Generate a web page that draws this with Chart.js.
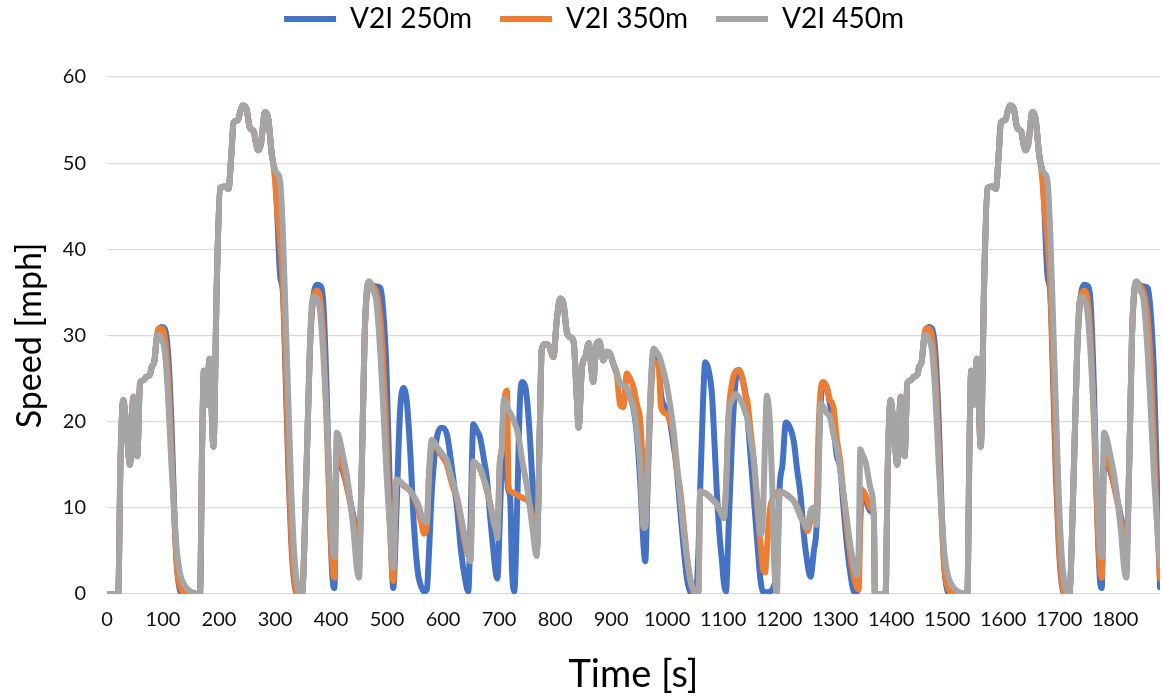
<!DOCTYPE html>
<html>
<head>
<meta charset="utf-8">
<script src="https://cdn.jsdelivr.net/npm/chart.js@4.4.0/dist/chart.umd.min.js"></script>
<style>
  html, body { margin: 0; padding: 0; background: #fff; }
</style>
</head>
<body>
<canvas id="myChart" width="1162" height="698"></canvas>
<script>
// Time [s] (shared by the three series)
var time = [
  0, 20, 24, 29, 35, 41, 47, 51, 54, 59, 65, 70, 77, 80, 84, 89, 92, 97, 103, 109, 115, 120, 125, 130, 136, 143, 152, 166,
  170, 173, 178, 183, 190, 196, 202, 210, 217, 222, 226, 234, 238, 242, 249, 255, 262, 266, 270, 275, 282, 288, 294, 297, 300, 304, 309, 314, 319, 324, 329, 334, 340, 348,
  356, 362, 366, 370, 375, 380, 386, 392, 398, 403, 406, 410, 414, 420, 430, 440, 446, 450, 455, 460, 464, 468, 475, 481, 488, 493, 499, 505, 511,
  517, 523, 529, 535, 541, 548, 555, 562, 566, 571, 575, 580, 590, 598, 607, 615, 620, 625, 632, 640, 645, 649, 654, 660, 666, 672, 678, 684, 690, 694, 697, 701, 705, 708, 711, 714, 717, 720, 723, 727, 733, 737, 741, 747, 752, 757, 761, 767,
  773, 776, 782, 788, 797, 803, 809, 815, 821, 827, 833, 839, 842, 848, 854, 860, 865, 868, 874, 879, 886, 892, 898, 904, 910,
  916, 922, 928, 934, 940, 946, 952, 958, 961, 965, 970, 976, 980, 985, 989, 999, 1004, 1011, 1017, 1023, 1029, 1035, 1041, 1047, 1051, 1056,
  1059, 1064, 1068, 1074, 1080, 1085, 1089, 1094, 1098, 1101, 1105, 1110, 1116, 1122, 1128, 1134, 1140, 1143, 1149, 1155, 1161, 1167, 1171, 1175, 1178, 1181, 1184, 1188, 1191, 1196,
  1201, 1206, 1212, 1218, 1226, 1232, 1238, 1244, 1250, 1256, 1262, 1267, 1270, 1274, 1279, 1285, 1291, 1297, 1303, 1309, 1315, 1321, 1327, 1333, 1339, 1342, 1345, 1348, 1354, 1363, 1369, 1371,
  1390, 1394, 1399, 1405, 1411, 1417, 1421, 1424, 1429, 1435, 1440, 1447, 1450, 1454, 1459, 1462, 1467, 1473, 1479, 1485, 1490, 1495, 1500, 1506, 1513, 1522, 1536,
  1540, 1543, 1548, 1553, 1560, 1566, 1572, 1580, 1587, 1592, 1596, 1604, 1608, 1612, 1619, 1625, 1632, 1636, 1640, 1645, 1652, 1658, 1664, 1667, 1670, 1674, 1679, 1684, 1689, 1694, 1699, 1704, 1710, 1718,
  1726, 1732, 1736, 1740, 1745, 1750, 1756, 1762, 1768, 1773, 1776, 1780, 1784, 1790, 1800, 1810, 1816, 1820, 1825, 1830, 1834, 1838, 1845, 1851, 1858, 1863, 1869, 1875, 1880
];

// Speed [mph], V2I 250m
var speed250 = [
  0, 0, 15, 22.5, 19, 15, 22.9, 18, 16, 24.5, 24.8, 25.2, 25.5, 26.4, 26.8, 29.8, 30.5, 31, 30.8, 28, 20, 10, 3, 0.5, 0, 0, 0, 0,
  18, 25.9, 22, 27.3, 17.1, 36, 47.1, 47.3, 47, 51, 54.7, 55, 56, 56.7, 56.3, 54.1, 53.7, 52.3, 51.5, 52.3, 55.9, 55.1, 51.1, 49.9, 49, 44, 37, 35, 25, 14, 6, 1.5, 0, 0,
  14, 28, 33, 35.2, 35.9, 35.8, 33.9, 24, 9, 1.5, 0.7, 15.5, 15, 14.5, 12, 9, 6.7, 5, 15, 30, 35, 36, 35.8, 35.7, 35.5, 33, 26, 12, 0.7,
  10, 21, 23.9, 22.5, 17, 8, 2.5, 0.7, 0.3, 0.5, 5, 12, 18.5, 19.3, 18.5, 15, 12.5, 10, 5, 1.5, 0.3, 8, 19.7, 19, 18.2, 16, 13.5, 9, 4.9, 2.5, 1.8, 8, 16, 21, 22, 14, 12, 11, 3, 0.3, 12, 22, 24.6, 24, 21, 16, 11, 4.6,
  20, 28.3, 29, 28.9, 27.5, 31.8, 34.3, 33.7, 30.4, 29.8, 29.3, 22.5, 19.3, 26.3, 27.5, 29.1, 26, 24.6, 29, 29.3, 27.1, 28.1, 27.9, 26.7, 25.6,
  24.4, 24.2, 23.9, 22.8, 21.5, 18.5, 13, 5.5, 3.8, 12, 22, 28.3, 27.8, 27, 23.2, 21.5, 20.5, 17.5, 14.7, 10, 5.7, 2, 0.3, 0, 0, 5,
  12, 22, 26.9, 26, 23.2, 17, 11.6, 6.5, 3.8, 1.5, 0.3, 8, 18, 24.5, 26, 25, 23.2, 21, 16, 11, 6, 1.5, 0.3, 0.2, 0.2, 0.2, 0.3, 0.5, 1, 3,
  12.5, 15, 19.9, 19.5, 17.8, 14.5, 11.6, 7, 3.8, 2, 5, 8, 15, 22, 24.3, 24, 22, 19.5, 16, 14.7, 10, 5.7, 2.5, 0.3, 0.2, 3, 9, 11.6, 11, 9.6, 9.2, 0,
  0, 15, 22.5, 19, 15, 22.9, 18, 16, 24.5, 24.8, 25.2, 25.5, 26.4, 26.8, 29.8, 30.5, 31, 30.8, 28, 20, 10, 3, 0.5, 0, 0, 0, 0,
  18, 25.9, 22, 27.3, 17.1, 36, 47.1, 47.3, 47, 51, 54.7, 55, 56, 56.7, 56.3, 54.1, 53.7, 52.3, 51.5, 52.3, 55.9, 55.1, 51.1, 49.9, 49, 44, 37, 35, 25, 14, 6, 1.5, 0, 0,
  14, 28, 33, 35.2, 35.9, 35.8, 33.9, 24, 9, 1.5, 0.7, 15.5, 15, 14.5, 12, 9, 6.7, 5, 15, 30, 35, 36, 35.8, 35.7, 35.5, 33, 26, 12, 0.8
];

// Speed [mph], V2I 350m
var speed350 = [
  0, 0, 15, 22.5, 19, 15, 22.9, 18, 16, 24.5, 24.8, 25.2, 25.5, 26.4, 26.8, 29.8, 30.8, 30.8, 29.8, 25.5, 17, 9, 3, 1, 0.2, 0, 0, 0,
  18, 25.9, 22, 27.3, 17.1, 36, 47.1, 47.3, 47, 51, 54.7, 55, 56, 56.7, 56.3, 54.1, 53.7, 52.3, 51.5, 52.3, 55.9, 55.1, 51.1, 49.9, 48, 44.5, 41, 36, 27, 16, 7, 2, 0, 0,
  14, 28, 33, 34.8, 35.2, 34.5, 30, 20, 9, 3, 1.9, 16.3, 16, 15, 12, 8.5, 6.5, 4.5, 15, 30, 35, 36.2, 35.7, 35, 32, 27, 18, 8, 1.5,
  13.2, 13, 12.6, 12.3, 12, 11.2, 10, 8, 7, 8, 14, 17.3, 16.8, 16, 15, 13, 12, 11, 8.5, 5.5, 4.5, 5, 15, 15, 14.5, 13.5, 12, 10.5, 8.5, 7.5, 7, 15, 17, 21.5, 23.2, 23.6, 12.5, 11.9, 11.8, 11.7, 11.5, 11.3, 11.2, 11, 10.8, 9.8, 8, 4.6,
  20, 28.3, 29, 28.9, 27.5, 31.8, 34.3, 33.7, 30.4, 29.8, 29.3, 22.5, 19.3, 26.3, 27.5, 29.1, 26, 24.6, 29, 29.3, 27.1, 28.1, 27.9, 26.7, 25.6,
  22, 21.7, 25.6, 25, 24, 22, 20.1, 13, 9.2, 14, 22, 27, 26.8, 26.7, 21.7, 20.9, 20.3, 18.6, 14.5, 12.3, 8.5, 4.6, 1.8, 0.3, 0, 0.3,
  11.9, 11.8, 11.7, 11.4, 11, 10.7, 10.4, 9.7, 9.2, 8.8, 12, 20.9, 24.5, 25.8, 26, 25.2, 23, 22.5, 19, 15.4, 10, 5.7, 3, 2.5, 5, 8, 10, 11, 11.5, 11.8,
  11.9, 11.8, 11.6, 11.3, 10.8, 10.2, 9.2, 8.2, 7.3, 8.5, 10, 9, 18, 23.5, 24.6, 24, 22.5, 21.7, 18, 15.4, 11.5, 7.7, 4.5, 2.2, 0.8, 0.5, 9, 12.1, 11.5, 10, 9.2, 0,
  0, 15, 22.5, 19, 15, 22.9, 18, 16, 24.5, 24.8, 25.2, 25.5, 26.4, 26.8, 29.8, 30.8, 30.8, 29.8, 25.5, 17, 9, 3, 1, 0.2, 0, 0, 0,
  18, 25.9, 22, 27.3, 17.1, 36, 47.1, 47.3, 47, 51, 54.7, 55, 56, 56.7, 56.3, 54.1, 53.7, 52.3, 51.5, 52.3, 55.9, 55.1, 51.1, 49.9, 48, 44.5, 41, 36, 27, 16, 7, 2, 0, 0,
  14, 28, 33, 34.8, 35.2, 34.5, 30, 20, 9, 3, 1.9, 16.3, 16, 15, 12, 8.5, 6.5, 4.5, 15, 30, 35, 36.2, 35.7, 35, 32, 27, 18, 8, 1.8
];

// Speed [mph], V2I 450m
var speed450 = [
  0, 0, 15, 22.5, 19, 15, 22.9, 18, 16, 24.5, 24.8, 25.2, 25.5, 26.4, 26.8, 29.8, 30.1, 29.6, 28.2, 23, 15, 9.5, 4.8, 2.5, 1.3, 0.6, 0.2, 0,
  18, 25.9, 22, 27.3, 17.1, 36, 47.1, 47.3, 47, 51, 54.7, 55, 56, 56.7, 56.3, 54.1, 53.7, 52.3, 51.5, 52.3, 55.9, 55.1, 51.1, 49.9, 49.2, 48.8, 48, 42, 32, 22, 12, 5, 1, 0,
  14, 28, 33.9, 34.5, 34.2, 33, 28, 21, 12, 5.5, 4.3, 18.7, 18.3, 16.5, 13, 7.5, 3, 1.9, 15, 30, 35.5, 36.3, 35.2, 33.9, 28, 22, 14, 7.9, 3.1,
  13.3, 13.1, 12.7, 12.4, 12, 11.3, 10.5, 9, 8.5, 8.3, 14, 17.9, 17, 16.3, 15.5, 13.5, 12.5, 11.2, 9, 6.2, 4.5, 3.8, 15.4, 15, 14.7, 13.5, 12.3, 10.5, 8.5, 7.5, 6.5, 14.7, 17, 22.5, 22.6, 22, 21.3, 21, 20.6, 20, 18.8, 17.4, 15.6, 13.5, 11.5, 9, 6.9, 4.4,
  20, 28.3, 29, 28.9, 27.5, 31.8, 34.3, 33.7, 30.4, 29.8, 29.3, 22.5, 19.3, 26.3, 27.5, 29.1, 26, 24.6, 29, 29.3, 27.1, 28.1, 27.9, 26.7, 25.6,
  24.4, 24.2, 23.9, 22.8, 21.7, 19, 15, 7.7, 7.7, 14, 23.2, 28.5, 28.2, 27.7, 27, 24.4, 22.5, 19.3, 15.5, 11.5, 7.7, 4.5, 1.8, 0.5, 0.3, 0.3,
  11.9, 11.8, 11.7, 11.4, 11, 10.7, 10.4, 9.7, 9.2, 8.8, 12, 20.9, 22.5, 23.2, 22.8, 22.1, 21, 20.5, 18, 15.4, 11, 6.9, 9, 18, 23, 22, 19.3, 12, 3.8, 0.2,
  11.9, 11.8, 11.6, 11.3, 10.8, 10, 9, 8.3, 7.7, 9.6, 10, 8, 12, 22.1, 21.7, 21, 20.5, 18.5, 17, 14.5, 11.6, 8.7, 5.7, 3.5, 2.2, 5, 16.8, 16.3, 15.4, 12.3, 9.2, 0,
  0, 15, 22.5, 19, 15, 22.9, 18, 16, 24.5, 24.8, 25.2, 25.5, 26.4, 26.8, 29.8, 30.1, 29.6, 28.2, 23, 15, 9.5, 4.8, 2.5, 1.3, 0.6, 0.2, 0,
  18, 25.9, 22, 27.3, 17.1, 36, 47.1, 47.3, 47, 51, 54.7, 55, 56, 56.7, 56.3, 54.1, 53.7, 52.3, 51.5, 52.3, 55.9, 55.1, 51.1, 49.9, 49.2, 48.8, 48, 42, 32, 22, 12, 5, 1, 0,
  14, 28, 33.9, 34.5, 34.2, 33, 28, 21, 12, 5.5, 4.3, 18.7, 18.3, 16.5, 13, 7.5, 3, 1.9, 15, 30, 35.5, 36.3, 35.2, 33.9, 28, 22, 14, 7.9, 3.4
];

var seriesNames = ['V2I 250m', 'V2I 350m', 'V2I 450m'];
var seriesColors = ['#4472C4', '#ED7D31', '#A5A5A5'];
var yTicks = { min: 0, max: 60, step: 10 };
var xTicks = { min: 0, max: 1880, step: 100 };

var fontFamily = 'Lato, "Liberation Sans", Arial, sans-serif';

function toPoints(values) {
  return time.map(function (t, i) { return { x: t, y: values[i] }; });
}

function makeDataset(i, values) {
  return {
    label: seriesNames[i],
    data: toPoints(values),
    borderColor: seriesColors[i],
    backgroundColor: seriesColors[i],
    borderWidth: 6,
    pointRadius: 0,
    pointHoverRadius: 0,
    fill: false,
    cubicInterpolationMode: 'monotone',
    borderJoinStyle: 'round',
    borderCapStyle: 'round',
    order: 3 - i // gray drawn on top, like the original
  };
}

// fixed legend band height so the plot starts where the original does
var legendBand = {
  id: 'legendBand',
  beforeInit: function (chart) {
    var fit = chart.legend.fit;
    chart.legend.fit = function () {
      fit.call(this);
      this.height = 77;
    };
  },
  afterLayout: function (chart) {
    chart.legend.top = -23;
    chart.legend.left += 14;
    chart.legend.right += 14;
  }
};

var ctx = document.getElementById('myChart').getContext('2d');

var myChart = new Chart(ctx, {
  type: 'line',
  data: {
    datasets: [
      makeDataset(0, speed250),
      makeDataset(1, speed350),
      makeDataset(2, speed450)
    ]
  },
  options: {
    responsive: false,
    animation: false,
    layout: { padding: { left: 0, right: 2, top: 0, bottom: 0 } },
    plugins: {
      tooltip: { enabled: false },
      legend: {
        position: 'top',
        labels: {
          usePointStyle: true,
          pointStyle: 'line',
          pointStyleWidth: 52,
          padding: 28,
          color: '#000',
          font: { family: fontFamily, size: 28 },
          sort: function (a, b) { return a.datasetIndex - b.datasetIndex; }
        }
      }
    },
    scales: {
      x: {
        type: 'linear',
        min: xTicks.min,
        max: xTicks.max,
        afterFit: function (scale) { scale.height = 104; },
        grid: { display: false, drawTicks: false },
        border: { display: false },
        ticks: {
          stepSize: xTicks.step,
          includeBounds: false,
          autoSkip: false,
          maxRotation: 0,
          padding: 14,
          color: '#111',
          font: { family: fontFamily, size: 20 },
          callback: function (value) { return String(value); }
        },
        title: {
          display: true,
          text: 'Time [s]',
          color: '#000',
          font: { family: fontFamily, size: 38 },
          padding: { top: 0, bottom: 0 }
        }
      },
      y: {
        min: yTicks.min,
        max: yTicks.max,
        afterFit: function (scale) { scale.width = 107; },
        grid: { color: '#D9D9D9', lineWidth: 1.3, drawTicks: false },
        border: { display: false },
        ticks: {
          stepSize: yTicks.step,
          padding: 21,
          color: '#111',
          font: { family: fontFamily, size: 20 }
        },
        title: {
          display: true,
          text: 'Speed [mph]',
          color: '#000',
          font: { family: fontFamily, size: 34 },
          padding: { top: 10, bottom: 0 }
        }
      }
    }
  },
  plugins: [legendBand]
});
</script>
</body>
</html>
